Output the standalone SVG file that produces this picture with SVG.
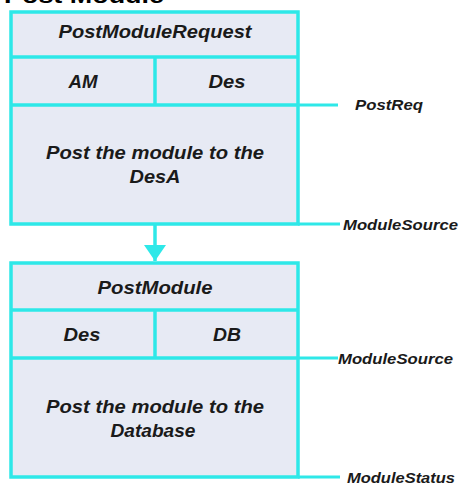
<svg xmlns="http://www.w3.org/2000/svg" width="462" height="491" viewBox="0 0 462 491">
  <style>
    .box { fill: #e7eaf4; stroke: #2ee8e8; stroke-width: 3.5; }
    .sep { stroke: #2ee8e8; stroke-width: 3.5; fill: none; }
    .lead { stroke: #2ee8e8; stroke-width: 3; fill: none; }
    .t { font-family: "Liberation Sans", Arial, sans-serif; font-weight: bold; font-style: italic; fill: #1a1a1a; text-anchor: middle; }
    .h { font-size: 18px; }
    .b { font-size: 19px; }
    .lbl { font-family: "Liberation Sans", Arial, sans-serif; font-weight: bold; font-style: italic; font-size: 14px; fill: #1a1a1a; }
    .title { font-family: "Liberation Sans", Arial, sans-serif; font-weight: bold; font-size: 22px; fill: #000; }
  </style>
  <defs>
    <marker id="arrow" viewBox="0 0 16 22" refX="16" refY="11" markerWidth="16" markerHeight="22" markerUnits="userSpaceOnUse" orient="auto">
      <path d="M0,0 L16,11 L0,22 Z" fill="#2ee8e8"/>
    </marker>
  </defs>

  <rect width="462" height="491" fill="#ffffff"/>

  <text class="title" x="4" y="3" textLength="160" lengthAdjust="spacingAndGlyphs">Post Module</text>

  <!-- connectors and side labels -->
  <g id="connectors">
    <line class="lead" x1="298" y1="105" x2="338" y2="105"/>
    <line class="lead" x1="298" y1="224" x2="340" y2="224"/>
    <line class="lead" x1="298" y1="358" x2="338" y2="358"/>
    <line class="lead" x1="298" y1="477" x2="340" y2="477"/>
    <line class="sep" x1="155" y1="224" x2="155" y2="261" marker-end="url(#arrow)"/>
    <text class="lbl" x="355" y="110" textLength="68" lengthAdjust="spacingAndGlyphs">PostReq</text>
    <text class="lbl" x="343" y="230" textLength="115" lengthAdjust="spacingAndGlyphs">ModuleSource</text>
    <text class="lbl" x="338" y="364" textLength="115" lengthAdjust="spacingAndGlyphs">ModuleSource</text>
    <text class="lbl" x="347" y="483" textLength="108" lengthAdjust="spacingAndGlyphs">ModuleStatus</text>
  </g>

  <!-- first step -->
  <g id="post-module-request">
    <rect class="box" x="11" y="12" width="287" height="212"/>
    <line class="sep" x1="11" y1="57" x2="298" y2="57"/>
    <line class="sep" x1="11" y1="105" x2="298" y2="105"/>
    <line class="sep" x1="155" y1="57" x2="155" y2="105"/>
    <text class="t h" x="155" y="38" textLength="193" lengthAdjust="spacingAndGlyphs">PostModuleRequest</text>
    <text class="t h" x="83" y="88" textLength="29" lengthAdjust="spacingAndGlyphs">AM</text>
    <text class="t h" x="227" y="88" textLength="37" lengthAdjust="spacingAndGlyphs">Des</text>
    <text class="t b" x="155" y="159" textLength="218" lengthAdjust="spacingAndGlyphs">Post the module to the</text>
    <text class="t b" x="155" y="183" textLength="51" lengthAdjust="spacingAndGlyphs">DesA</text>
  </g>

  <!-- second step -->
  <g id="post-module">
    <rect class="box" x="11" y="263" width="287" height="214"/>
    <line class="sep" x1="11" y1="310" x2="298" y2="310"/>
    <line class="sep" x1="11" y1="358" x2="298" y2="358"/>
    <line class="sep" x1="155" y1="310" x2="155" y2="358"/>
    <text class="t h" x="155" y="294" textLength="115" lengthAdjust="spacingAndGlyphs">PostModule</text>
    <text class="t h" x="82" y="341" textLength="37" lengthAdjust="spacingAndGlyphs">Des</text>
    <text class="t h" x="227" y="341" textLength="28" lengthAdjust="spacingAndGlyphs">DB</text>
    <text class="t b" x="155" y="413" textLength="218" lengthAdjust="spacingAndGlyphs">Post the module to the</text>
    <text class="t b" x="153" y="437" textLength="85" lengthAdjust="spacingAndGlyphs">Database</text>
  </g>
</svg>
